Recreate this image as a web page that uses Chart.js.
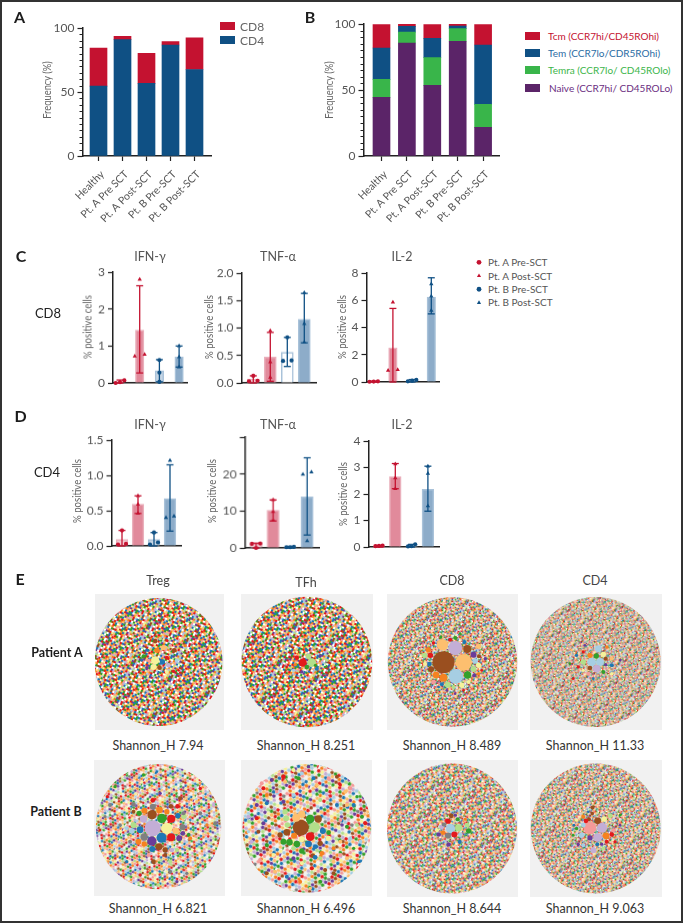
<!DOCTYPE html>
<html>
<head>
<meta charset="utf-8">
<title>T cell panels</title>
<script src="https://cdn.jsdelivr.net/npm/chart.js@4"></script>
<style>
  html, body { margin: 0; padding: 0; background: #fff; }
  #page { position: absolute; left: 0; top: 0; width: 684px; height: 924px; overflow: hidden; font-family: Lato, sans-serif; }
  #page canvas { position: absolute; }
  #frame { position: absolute; left: 0; top: 0; width: 679px; height: 919px; border: 2px solid #333; }
  .txt { position: absolute; white-space: nowrap; transform: translate(-50%, -50%); }
  .swatch { position: absolute; }
</style>
</head>
<body>
<div id="page"><div id="frame"></div></div>
<script>
// panels A, B
const categories = ['Healthy', 'Pt. A Pre SCT', 'Pt. A Post-SCT', 'Pt. B Pre-SCT', 'Pt. B Post-SCT']
const cd4Values = [54.6, 90.9, 56.7, 86.7, 67.6]
const cd8Values = [29.7, 2.6, 23.5, 2.6, 24.8]
const naiveValues = [44.4, 85.6, 53.5, 86.9, 21.7]
const temraValues = [13.7, 8.3, 21.0, 9.6, 17.4]
const temValues = [23.7, 4.3, 14.6, 2.0, 45.0]
const tcmValues = [17.7, 1.8, 10.4, 1.5, 15.4]
const legendA = ['CD8', 'CD4']
const legendB = ['Tcm (CCR7hi/CD45ROhi)', 'Tem (CCR7lo/CDR5ROhi)', 'Temra (CCR7lo/ CD45ROlo)', 'Naive (CCR7hi/ CD45ROLo)']
const legendC = ['Pt. A Pre-SCT', 'Pt. A Post-SCT', 'Pt. B Pre-SCT', 'Pt. B Post-SCT']

// panels C, D : mean, error bar low / high, then the 3 donors of each group
const cIfnMeans = [0.03, 1.43, 0.33, 0.7]
const cIfnLow = [0, 0.27, 0.03, 0.43]
const cIfnHigh = [0.08, 2.63, 0.63, 1.0]
const cIfnPoints = [[0, 0.07, 0.02], [2.8, 0.72, 0.77], [0.62, 0.28, 0.03], [1.0, 0.7, 0.43]]
const cTnfMeans = [0.07, 0.47, 0.56, 1.16]
const cTnfLow = [0, 0.03, 0.3, 0.73]
const cTnfHigh = [0.13, 0.92, 0.83, 1.63]
const cTnfPoints = [[0.03, 0.13, 0.04], [0.95, 0.38, 0.1], [0.83, 0.4, 0.41], [1.64, 1.08, 0.74]]
const cIl2Means = [0.04, 2.5, 0.1, 6.23]
const cIl2Low = [0, 0, 0, 5.0]
const cIl2High = [0.07, 5.4, 0.18, 7.65]
const cIl2Points = [[0.03, 0.05, 0.02], [5.85, 0.85, 0.9], [0.05, 0.15, 0.1], [7.2, 5.25, 6.3]]
const dIfnMeans = [0.09, 0.59, 0.09, 0.67]
const dIfnLow = [0, 0.46, 0, 0.21]
const dIfnHigh = [0.22, 0.71, 0.19, 1.15]
const dIfnPoints = [[0.22, 0.02, 0.03], [0.71, 0.59, 0.46], [0.19, 0.02, 0.05], [1.21, 0.4, 0.42]]
const dTnfMeans = [1.1, 10.2, 0.2, 13.8]
const dTnfLow = [0, 7.3, 0, 3.5]
const dTnfHigh = [1.3, 13, 0.4, 24.4]
const dTnfPoints = [[1.2, 1.1, 0], [13, 9.8, 7.5], [0.2, 0.3, 0.2], [20.5, 19.9, 1.9]]
const dIl2Means = [0.03, 2.66, 0.05, 2.18]
const dIl2Low = [0, 2.2, 0, 1.35]
const dIl2High = [0.06, 3.15, 0.1, 3.05]
const dIl2Points = [[0.04, 0.05, 0.03], [3.13, 2.6, 2.2], [0.1, 0.02, 0.03], [2.77, 1.55, 3.05]]

// panel E : the clones big enough to read, [x, y, r, colour] in crop pixels of the reference (3x)
const tregA = [[470,240,8,'o'],[490,232,8,'a'],[465,270,12,'y'],[460,290,9,'y'],[487,275,8,'u'],[500,262,6,'r'],[478,292,7,'b'],[505,285,7,'l'],[465,212,7,'b'],[522,240,7,'b'],[430,258,6,'g'],[443,240,5,'u'],[500,305,6,'y'],[520,303,5,'r'],[555,226,5,'o'],[440,292,5,'p'],[450,320,4,'p'],[425,270,4,'u'],[530,270,6,'s'],[445,270,5,'k'],[505,365,5,'o'],[410,240,3,'b'],[500,210,4,'r'],[465,345,4,'g'],[535,300,4,'r'],[480,205,5,'n'],[510,225,5,'k'],[565,290,4,'p']]
const tfhA = [[908,277,12,'r'],[935,277,13,'n'],[920,290,7,'g'],[890,262,7,'r'],[920,240,5,'u'],[925,258,8,'n'],[905,305,5,'p'],[885,283,5,'o'],[950,295,6,'u'],[960,257,5,'p'],[946,285,5,'g'],[880,300,5,'s'],[860,290,4,'r'],[980,270,5,'n'],[975,320,4,'u'],[975,290,4,'g'],[890,245,4,'y']]
const cd8A = [[220,276,33,'b'],[280,276,25,'a'],[257,318,22,'s'],[255,233,21,'l'],[217,223,17,'a'],[291,236,12,'b'],[292,314,11,'g'],[220,322,12,'o'],[198,314,10,'o'],[181,255,8,'r'],[183,297,9,'b'],[310,253,9,'p'],[233,343,9,'n'],[163,255,8,'n'],[178,281,7,'u'],[310,296,9,'n'],[325,285,8,'y'],[325,228,8,'a'],[315,272,8,'s'],[175,238,8,'o'],[190,335,7,'k'],[165,280,6,'y'],[312,315,6,'p'],[283,215,6,'u'],[256,203,6,'g'],[240,208,6,'r'],[212,200,5,'g'],[275,345,8,'y'],[215,342,6,'u'],[326,258,6,'b'],[345,265,5,'p'],[190,218,5,'r'],[325,310,5,'o'],[295,335,6,'y'],[250,350,6,'n'],[335,300,4,'r'],[255,370,4,'p'],[205,350,4,'u'],[230,360,4,'p'],[280,360,4,'r'],[270,190,4,'g'],[300,205,5,'a']]
const cd4A = [[665,275,13,'s'],[690,275,12,'s'],[680,295,11,'l'],[679,257,8,'g'],[660,255,8,'o'],[700,252,8,'y'],[685,235,10,'s'],[660,293,7,'b'],[640,275,8,'n'],[625,290,5,'r'],[707,283,5,'p'],[725,285,6,'u'],[707,265,6,'b'],[725,265,6,'a'],[640,245,5,'r'],[655,310,6,'k'],[640,300,5,'y'],[700,305,6,'g'],[620,255,5,'u'],[645,225,4,'p'],[710,230,5,'o'],[610,325,4,'r'],[600,280,4,'g'],[750,270,4,'p'],[605,240,4,'a'],[670,325,4,'u'],[725,310,5,'y']]
const tregB = [[457,250,24,'l'],[500,250,17,'y'],[456,209,14,'b'],[485,220,14,'g'],[513,221,12,'r'],[484,278,15,'u'],[513,277,12,'r'],[455,288,14,'p'],[432,276,11,'e'],[430,222,11,'l'],[420,254,10,'u'],[527,258,10,'a'],[478,195,10,'o'],[476,305,10,'b'],[533,212,8,'u'],[400,240,9,'n'],[547,246,9,'e'],[537,280,9,'p'],[415,290,9,'o'],[395,258,8,'s'],[432,297,8,'o'],[456,312,9,'u'],[551,214,8,'n'],[458,185,9,'e'],[433,197,9,'o'],[495,315,8,'b'],[417,205,8,'g'],[512,184,7,'b'],[532,184,7,'r'],[500,200,8,'o'],[548,265,7,'p'],[565,270,6,'g'],[458,166,7,'r'],[400,178,7,'e'],[400,200,6,'b'],[380,250,6,'s'],[360,240,5,'e'],[570,280,6,'o'],[515,315,7,'l'],[495,330,6,'b'],[445,330,6,'k'],[530,315,6,'n'],[390,290,6,'e'],[330,180,6,'e'],[315,215,5,'e'],[322,155,5,'r'],[345,125,5,'g'],[480,145,5,'p'],[540,160,6,'b'],[550,205,6,'e'],[600,205,6,'e'],[590,170,5,'a'],[600,130,5,'r'],[600,145,5,'k'],[640,180,5,'l'],[645,235,6,'e'],[620,240,5,'o'],[300,255,4,'r'],[470,80,4,'u'],[430,90,5,'g'],[475,420,5,'n'],[530,410,5,'p'],[510,380,6,'e'],[560,385,5,'e'],[420,390,5,'r'],[380,350,5,'u'],[460,350,7,'b'],[510,350,6,'n'],[330,320,5,'a']]
const tfhB = [[902,248,24,'b'],[943,247,16,'n'],[930,275,13,'r'],[930,222,13,'g'],[888,218,12,'a'],[905,208,11,'a'],[954,222,11,'b'],[968,258,9,'u'],[925,297,10,'u'],[905,283,9,'y'],[890,297,10,'g'],[868,292,10,'g'],[850,290,9,'g'],[860,262,10,'b'],[840,270,8,'b'],[882,272,9,'o'],[858,220,9,'n'],[855,200,8,'n'],[862,240,8,'n'],[880,310,7,'n'],[945,305,7,'u'],[905,318,8,'g'],[960,295,8,'b'],[965,325,7,'o'],[938,332,7,'b'],[945,337,7,'u'],[985,280,8,'y'],[985,263,7,'g'],[850,170,6,'p'],[785,115,6,'k'],[790,130,6,'r'],[770,135,5,'a'],[800,150,6,'o'],[815,105,6,'p'],[850,95,7,'r'],[855,110,6,'a'],[880,75,6,'y'],[895,100,6,'g'],[905,85,6,'s'],[925,65,5,'p'],[940,100,6,'u'],[950,120,6,'a'],[985,100,6,'k'],[1010,95,6,'b'],[1020,120,5,'r'],[1035,140,6,'a'],[1050,130,6,'k'],[1070,155,5,'g'],[1060,180,6,'u'],[1040,180,6,'a'],[1010,180,6,'u'],[1085,215,6,'g'],[1095,235,6,'r'],[1070,240,6,'n'],[1040,245,6,'g'],[1020,225,6,'k'],[1050,280,6,'s'],[1080,290,6,'s'],[1060,310,5,'g'],[1075,350,5,'u'],[1040,340,6,'a'],[1020,330,6,'k'],[1000,350,6,'a'],[1000,385,6,'b'],[975,375,6,'b'],[1020,395,5,'p'],[960,410,6,'g'],[930,430,5,'a'],[900,410,6,'o'],[870,410,5,'o'],[850,420,5,'l'],[860,395,6,'u'],[825,380,6,'a'],[800,385,6,'b'],[780,345,6,'k'],[755,290,6,'l'],[745,260,5,'s'],[775,260,6,'b'],[800,300,6,'g'],[820,330,6,'y'],[745,215,6,'l'],[770,220,6,'r'],[790,235,6,'p'],[815,210,6,'a'],[830,250,6,'l'],[770,180,6,'p'],[800,175,6,'u'],[830,140,5,'k'],[930,150,6,'y'],[880,150,6,'s'],[960,165,6,'n'],[880,340,6,'p'],[905,355,6,'y'],[935,370,6,'r'],[900,380,6,'g'],[960,340,6,'n'],[1000,310,6,'o'],[1020,290,6,'a']]
const cd8B = [[240,250,14,'s'],[265,248,11,'n'],[252,268,9,'r'],[233,228,8,'r'],[233,272,9,'e'],[205,268,7,'p'],[215,245,7,'l'],[220,238,6,'e'],[218,262,7,'o'],[295,257,8,'g'],[270,268,7,'s'],[200,255,6,'y'],[243,212,7,'b'],[262,222,6,'g'],[285,222,5,'o'],[235,298,7,'p'],[268,290,6,'u'],[290,240,7,'n'],[255,210,5,'p']]
const cd4B = [[660,248,19,'k'],[696,248,15,'l'],[683,277,13,'l'],[683,227,10,'b'],[657,222,6,'b'],[667,205,5,'b'],[668,187,6,'b'],[648,227,7,'r'],[708,272,10,'o'],[660,278,8,'p'],[635,270,8,'s'],[640,240,7,'s'],[702,222,8,'y'],[720,212,7,'n'],[725,268,7,'r'],[710,290,6,'r'],[682,297,6,'u'],[730,255,6,'k'],[695,297,5,'p'],[670,315,9,'l'],[640,300,6,'s'],[640,215,6,'o'],[620,250,5,'g'],[612,240,4,'u'],[610,270,4,'g'],[750,240,4,'p'],[655,200,4,'u'],[735,290,5,'r'],[700,310,6,'n'],[620,225,5,'y'],[625,298,5,'p'],[750,210,4,'g']]
const shannonA = ['7.94', '8.251', '8.489', '11.33']
const shannonB = ['6.821', '6.496', '8.644', '9.063']
const repertoireNames = ['Treg', 'TFh', 'CD8', 'CD4']

// clone colours and the speckle of the small clones (too many to read one by one)
const cloneColours = { b:'#9a4f1f', p:'#6a3d9a', l:'#c3aed6', u:'#1f78b4', s:'#a6cee3', g:'#33a02c', n:'#b2df8a', r:'#e31a1c', k:'#f49a99', o:'#f58220', a:'#fdbf6f', y:'#f5f29a', e:'#808080', '.':'#ffffff' }
const speckleRows = [
  'rsgoykualnburgepaoky',
  'u.akrnb.sogylprk.uag',
  'gpoy.lurkasbng.oyrpu',
  'akrsugo.ynpbl.kruaog',
  'lnb.parkyogusre.anpk',
  'or.gyuslakbp.rnoguya',
  'kusnpo.ergayl.ubkros',
  'ybrl.agokupsny.rgoae',
  'sa.gurkpnoy.blrsakug',
  'pougsy.akrlngbou.yrn',
  'gr.anbkuoslpy.rgak.u',
  'ayplokgr.usnbao.kyrg',
  'unrk.yasgpolu.gbrayo',
  'ok.bgrsupyankol.sugr',
  'rylsa.oungk.pbryags.',
  'gaukpbry.olsn.uokrgy',
  'b.songyrlaku.gpyroas',
  'krupa.lgo.nysrbuk.ag',
  'soy.grnkbuapo.lgrsuy',
  'apgulrs.oykng.rbauop'
]

const red = '#c41230', blue = '#0f5084'
const redBar = '#e18a9b', blueBar = '#8dacc9'
const redEdge = '#eab0bc', blueEdge = '#a9c2d9'
const axisDark = '#222', tickText = '#555', titleText = '#666'

const page = document.getElementById('page')

function addText(text, x, y, size, color, weight) {
  const el = document.createElement('div')
  el.className = 'txt'
  el.textContent = text
  el.style.left = x + 'px'
  el.style.top = y + 'px'
  el.style.fontSize = size + 'px'
  el.style.color = color
  if (weight) el.style.fontWeight = weight
  page.appendChild(el)
  return el
}

// the axis titles are set narrower than any installed face, so they are scaled text
function axisTitle(text, x, y, squeeze) {
  const el = addText(text, x, y, 12, titleText)
  el.style.transform = `translate(-50%, -50%) rotate(-90deg) scaleX(${squeeze})`
}

function addCanvas(left, top, width, height) {
  const c = document.createElement('canvas')
  c.width = width
  c.height = height
  c.style.left = left + 'px'
  c.style.top = top + 'px'
  c.style.width = width + 'px'
  c.style.height = height + 'px'
  page.appendChild(c)
  return c
}

// small ticks between the labelled ones on A and B
const minorTicks = {
  id: 'minorTicks',
  afterDraw(chart, args, opts) {
    if (!opts.step) return
    const y = chart.scales.y, ctx = chart.ctx
    ctx.save()
    ctx.strokeStyle = axisDark
    ctx.lineWidth = 1
    for (let v = 0; v <= y.max; v += opts.step) {
      if (v % 50 === 0) continue
      const py = Math.round(y.getPixelForValue(v)) + 0.5
      ctx.beginPath()
      ctx.moveTo(y.right, py)
      ctx.lineTo(y.right - 3, py)
      ctx.stroke()
    }
    ctx.restore()
  }
}
Chart.register(minorTicks)

// builds both axes so the plot area falls on fixed page pixels
function axes(g, yMax, yStep, labelFn, xTicks) {
  const spacing = g.spacing
  return {
    x: {
      type: 'linear',
      offset: false,
      stacked: !!xTicks,
      min: -(g.first - g.axisX) / spacing,
      max: (g.endX - g.first) / spacing,
      border: { display: true, color: axisDark, width: 1.5 },
      grid: { display: !!xTicks, offset: false, drawOnChartArea: false, color: axisDark, tickLength: 5, tickWidth: 1.2 },
      ticks: xTicks ? {
        stepSize: 1, autoSkip: false, includeBounds: false, minRotation: 45, maxRotation: 45,
        color: tickText, font: { size: 10.5, family: 'Lato' }, padding: 7, labelOffset: 4,
        callback: v => categories[v]
      } : { display: false },
      afterFit: s => { s.height = g.canvasBottom - g.y0; s.paddingLeft = 0; s.paddingRight = 0 }
    },
    y: {
      stacked: !!xTicks,
      min: 0,
      max: yMax,
      border: { display: true, color: axisDark, width: 1.5 },
      grid: { drawOnChartArea: false, color: axisDark, tickLength: 5, tickWidth: 1.2 },
      ticks: { stepSize: yStep, color: tickText, padding: 3, font: { size: 12, family: 'Lato' }, callback: labelFn },
      afterFit: s => { s.width = g.axisX - Math.round(g.titleX - 7.5); s.paddingTop = 0; s.paddingBottom = 0 }
    }
  }
}

function stackedChart(g, series) {
  const left = Math.round(g.titleX - 7.5), top = g.yTop - 8
  const canvas = addCanvas(left, top, g.canvasRight - left, g.canvasBottom - top)
  new Chart(canvas, {
    type: 'bar',
    data: {
      datasets: series.map(s => ({
        label: s.label,
        data: s.values.map((v, i) => ({ x: i, y: v })),
        backgroundColor: s.color,
        barThickness: 17
      }))
    },
    options: {
      responsive: false,
      animation: false,
      layout: { autoPadding: false, padding: { top: 8, right: g.canvasRight - g.endX } },
      plugins: { legend: { display: false }, tooltip: { enabled: false }, minorTicks: { step: 5 } },
      scales: axes(g, 100, 50, v => v, true)
    }
  })
  axisTitle('Frequency (%)', g.titleX, 90, 0.78)
}

// spreads donors sideways when they would sit on top of each other
function donorOffsets(values, tol) {
  const order = values.map((v, i) => i).sort((a, b) => values[a] - values[b])
  const off = [0, 0, 0]
  for (let k = 0; k < 2; k++) {
    if (values[order[k + 1]] - values[order[k]] < tol) {
      off[order[k]] = off[order[k]] || -0.25
      off[order[k + 1]] = 0.25
    }
  }
  if (values[order[2]] - values[order[0]] < tol) {
    off[order[0]] = -0.22; off[order[1]] = 0; off[order[2]] = 0.22
  }
  return off
}

function donorChart(g, means, low, high, points, yMax, yStep, labelFn, fills) {
  const colours = [red, red, blue, blue]
  const styles = ['circle', 'triangle', 'circle', 'triangle']
  const edges = [redEdge, redEdge, blueEdge, blueEdge]
  const datasets = [{
    type: 'bar',
    data: means.map((v, i) => ({ x: i, y: v })),
    backgroundColor: fills,
    borderColor: edges,
    borderWidth: 1.5,
    barThickness: g.barWidth,
    order: 3
  }]
  means.forEach((m, i) => {
    datasets.push({
      type: 'line',
      data: [{ x: i, y: low[i] }, { x: i, y: high[i] }],
      borderColor: colours[i],
      borderWidth: 1.3,
      pointStyle: 'line',
      pointRadius: 3.5,
      pointBorderColor: colours[i],
      pointBorderWidth: 1.3,
      clip: false,
      order: 2
    })
    const off = donorOffsets(points[i], yMax * 0.035)
    datasets.push({
      type: 'scatter',
      data: points[i].map((v, k) => ({ x: i + off[k], y: v })),
      pointStyle: styles[i],
      pointRadius: styles[i] === 'circle' ? 2.1 : 2.5,
      backgroundColor: colours[i],
      borderColor: colours[i],
      borderWidth: 0,
      clip: false,
      order: 1
    })
  })
  const left = Math.round(g.titleX - 7.5), top = g.yTop - 8
  const canvas = addCanvas(left, top, g.endX + 6 - left, g.y0 + 8 - top)
  new Chart(canvas, {
    type: 'bar',
    data: { datasets },
    options: {
      responsive: false,
      animation: false,
      layout: { autoPadding: false, padding: { top: 8, right: 6 } },
      plugins: { legend: { display: false }, tooltip: { enabled: false } },
      scales: axes({ ...g, canvasBottom: g.y0 + 8 }, yMax, yStep, labelFn, false)
    }
  })
  axisTitle('% positive cells', g.titleX, g.titleY, 0.8)
}

function speckle(cell, dots) {
  const n = speckleRows.length
  const tile = document.createElement('canvas')
  tile.width = tile.height = Math.round(n * cell)
  const t = tile.getContext('2d')
  const c = tile.width / n
  t.fillStyle = dots ? '#f4f2ee' : '#fff'
  t.fillRect(0, 0, tile.width, tile.height)
  speckleRows.forEach((row, j) => {
    for (let i = 0; i < n; i++) {
      if (row[i] === '.') continue
      t.fillStyle = cloneColours[row[i]]
      if (dots) {
        t.beginPath()
        t.arc((i + 0.5 + (j % 2) * 0.5) * c, (j + 0.5) * c, c * 0.48, 0, Math.PI * 2)
        t.fill()
      } else {
        t.fillRect(i * c, j * c, c, c)
      }
    }
  })
  const pat = t.createPattern(tile, 'repeat')
  pat.setTransform(new DOMMatrix().rotate(23))
  return pat
}

function repertoireChart(box, disc, clones, cell, dots) {
  const canvas = addCanvas(box.left, box.top, box.right - box.left, box.bottom - box.top)
  canvas.style.background = '#f1f1f1'
  new Chart(canvas, {
    type: 'bubble',
    data: {
      datasets: [
        {
          data: clones.map(d => ({ x: d[0], y: d[1], r: d[2] / 3 })),
          backgroundColor: clones.map(d => cloneColours[d[3]]),
          borderWidth: 0,
          order: 1
        },
        {
          data: [{ x: disc[0], y: disc[1], r: disc[2] / 3 }],
          backgroundColor: speckle(cell, dots),
          borderWidth: 0,
          order: 2
        }
      ]
    },
    options: {
      responsive: false,
      animation: false,
      layout: { autoPadding: false, padding: 0 },
      plugins: { legend: { display: false }, tooltip: { enabled: false } },
      scales: {
        x: { display: false, min: box.cropX[0], max: box.cropX[1] },
        y: { display: false, reverse: true, min: box.cropY[0], max: box.cropY[1] }
      }
    }
  })
}

// A
stackedChart(
  { axisX: 82.5, endX: 211, first: 98.5, spacing: 24, y0: 156, yTop: 28, titleX: 46, canvasRight: 216, canvasBottom: 225 },
  [{ label: 'CD4', values: cd4Values, color: blue }, { label: 'CD8', values: cd8Values, color: red }]
)
// B
stackedChart(
  { axisX: 363.5, endX: 499.5, first: 381.5, spacing: 25.4, y0: 156, yTop: 24, titleX: 328, canvasRight: 505, canvasBottom: 225 },
  [
    { label: 'Naive', values: naiveValues, color: '#5b2468' },
    { label: 'Temra', values: temraValues, color: '#39b54a' },
    { label: 'Tem', values: temValues, color: blue },
    { label: 'Tcm', values: tcmValues, color: red }
  ]
)

function addSwatch(x, y, w, h, color) {
  const el = document.createElement('div')
  el.className = 'swatch'
  el.style.cssText = `left:${x}px;top:${y}px;width:${w}px;height:${h}px;background:${color}`
  page.appendChild(el)
}

function leftText(text, x, y, size, color) {
  const el = addText(text, x, y, size, color)
  el.style.transform = 'translate(0, -50%)'
}

addSwatch(220, 22, 15, 8, red)
addSwatch(220, 36, 15, 8, blue)
leftText(legendA[0], 240, 26, 12, titleText)
leftText(legendA[1], 240, 40, 12, titleText)
const legendBColours = ['#c41230', '#2a6ca3', '#3cb54a', '#6a2d80']
const legendBSwatch = [red, blue, '#39b54a', '#5b2468']
const legendBY = [36, 53, 70, 88]
const legendBX = [548, 548, 548, 549]
legendB.forEach((t, i) => {
  addSwatch(525, legendBY[i] - 4, 15, 8, legendBSwatch[i])
  leftText(t, legendBX[i], legendBY[i], 10, legendBColours[i])
})

const lightRed = '#f3ccd4', lightBlue = '#c6d6e5'
// C
donorChart({ axisX: 113, endX: 187, first: 120, spacing: 19.7, barWidth: 8.5, y0: 382.5, yTop: 272, titleX: 87, titleY: 327 },
  cIfnMeans, cIfnLow, cIfnHigh, cIfnPoints, 3, 1, v => v, [lightRed, redBar, lightBlue, blueBar])
donorChart({ axisX: 241.5, endX: 316, first: 253.3, spacing: 17, barWidth: 12, y0: 382.5, yTop: 273, titleX: 208, titleY: 327 },
  cTnfMeans, cTnfLow, cTnfHigh, cTnfPoints, 2, 0.5, v => v.toFixed(1), [lightRed, redBar, '#ffffff', blueBar])
donorChart({ axisX: 366.5, endX: 439, first: 373.7, spacing: 19.2, barWidth: 8.5, y0: 382, yTop: 273, titleX: 341, titleY: 327 },
  cIl2Means, cIl2Low, cIl2High, cIl2Points, 8, 2, v => v, [lightRed, redBar, lightBlue, blueBar])
// D
donorChart({ axisX: 111.5, endX: 181, first: 122, spacing: 16, barWidth: 11.7, y0: 545.5, yTop: 440, titleX: 76, titleY: 491 },
  dIfnMeans, dIfnLow, dIfnHigh, dIfnPoints, 1.5, 0.5, v => v.toFixed(1), [lightRed, redBar, lightBlue, blueBar])
donorChart({ axisX: 244.5, endX: 318.5, first: 255.7, spacing: 17, barWidth: 12, y0: 547.5, yTop: 437, titleX: 211, titleY: 491 },
  dTnfMeans, dTnfLow, dTnfHigh, dTnfPoints, 30, 10, v => (v === 30 ? '' : v), [lightRed, redBar, lightBlue, blueBar])
donorChart({ axisX: 368.5, endX: 439, first: 379, spacing: 16.3, barWidth: 11.7, y0: 547, yTop: 440.5, titleX: 342, titleY: 494 },
  dIl2Means, dIl2Low, dIl2High, dIl2Points, 4, 1, v => v, [lightRed, redBar, lightBlue, blueBar])

const panelTitle = ['IFN-\u03B3', 'TNF-\u03B1', 'IL-2']
const panelTitleX = [150, 278, 402]
panelTitle.forEach((t, i) => {
  addText(t, panelTitleX[i], 256, 12.5, '#555')
  addText(t, panelTitleX[i], 423.5, 12.5, '#555')
})

legendC.forEach((t, i) => leftText(t, 488, [262, 275.5, 288.5, 301.5][i], 10, '#555'))
const legendMarkers = addCanvas(470, 252, 16, 60)
new Chart(legendMarkers, {
  type: 'scatter',
  data: { datasets: [0, 1, 2, 3].map(i => ({
    data: [{ x: 0, y: i }],
    pointStyle: i % 2 ? 'triangle' : 'circle',
    pointRadius: 2.4,
    backgroundColor: i < 2 ? red : blue,
    borderWidth: 0
  })) },
  options: {
    responsive: false,
    animation: false,
    layout: { autoPadding: false, padding: 0 },
    plugins: { legend: { display: false }, tooltip: { enabled: false } },
    scales: {
      x: { display: false, min: -9, max: 7 },
      y: { display: false, reverse: true, min: -0.77, max: 3.69 }
    }
  }
})

addText('CD8', 48, 313, 13, '#222')
addText('CD4', 47, 472, 13, '#222')
const letters = [['A', 19.5, 15.5], ['B', 310, 16], ['C', 21, 254.5], ['D', 20.5, 415], ['E', 20, 578]]
letters.forEach(l => addText(l[0], l[1], l[2], 16, '#1c1c1c', 700))

// E
const rowA = { top: 594, bottom: 730, cropY: [71, 479] }
const rowB = { top: 760, bottom: 896, cropY: [45, 453] }
repertoireChart({ left: 95, right: 224, ...rowA, cropX: [285, 671] }, [475, 275, 192], tregA, 2.0, false)
repertoireChart({ left: 241, right: 373, ...rowA, cropX: [723, 1118] }, [920, 275, 196], tfhA, 2.0, false)
repertoireChart({ left: 387, right: 518, ...rowA, cropX: [51, 443] }, [247, 275, 194], cd8A, 1.5, false)
repertoireChart({ left: 530, right: 662, ...rowA, cropX: [481, 875] }, [677, 275, 195], cd4A, 1.2, false)
repertoireChart({ left: 94, right: 225, ...rowB, cropX: [282, 674] }, [475, 245, 188], tregB, 2.7, true)
repertoireChart({ left: 241, right: 372, ...rowB, cropX: [723, 1115] }, [920, 250, 193], tfhB, 3.7, true)
repertoireChart({ left: 387, right: 518, ...rowB, cropX: [50, 443], top: 760, bottom: 897, cropY: [45, 455] }, [245, 250, 195], cd8B, 1.7, false)
repertoireChart({ left: 530, right: 662, ...rowB, cropX: [481, 875], top: 760, bottom: 897, cropY: [45, 455] }, [677, 250, 195], cd4B, 1.4, false)

const repertoireX = [158, 306, 452, 595]
repertoireNames.forEach((n, i) => addText(n, repertoireX[i], i === 1 ? 582 : 580, 12.5, '#444'))
shannonA.forEach((v, i) => addText('Shannon_H ' + v, repertoireX[i], 745, 12.5, '#333'))
shannonB.forEach((v, i) => addText('Shannon_H ' + v, repertoireX[i], 908, 12.5, '#333'))
addText('Patient A', 57, 652, 12.5, '#1c1c1c', 700)
addText('Patient B', 56, 811, 12.5, '#1c1c1c', 700)
</script>
</body>
</html>
